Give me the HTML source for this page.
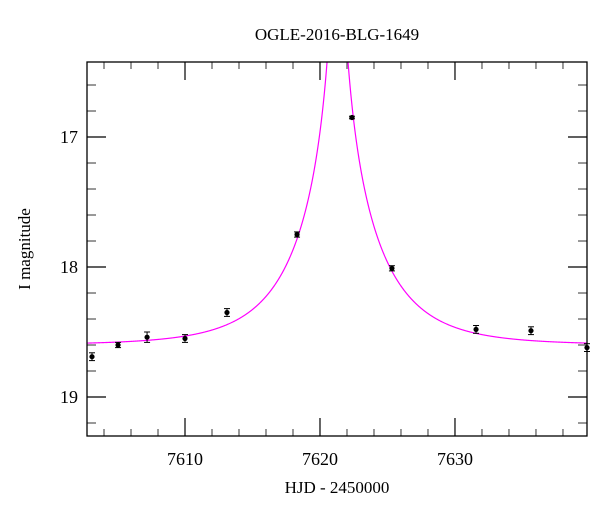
<!DOCTYPE html>
<html><head><meta charset="utf-8"><style>
html,body{margin:0;padding:0;background:#fff;}
svg{display:block;font-family:"Liberation Serif",serif;}
</style></head><body>
<svg id="chart" width="600" height="512" xmlns="http://www.w3.org/2000/svg">
<text x="337" y="40" text-anchor="middle" font-size="17">OGLE-2016-BLG-1649</text>
<text x="337" y="493" text-anchor="middle" font-size="17">HJD - 2450000</text>
<text transform="translate(30,249) rotate(-90)" text-anchor="middle" font-size="17">I magnitude</text>
<g id="ticks"></g>
<g id="curve"></g>
<g id="points"></g>
<rect x="87" y="62" width="500" height="374" fill="none" stroke="#000" stroke-width="1.3"/>
</svg>
<script>
const days=[7603.11,7605.04,7607.19,7610.0,7613.11,7618.30,7622.37,7625.33,7631.56,7635.63,7639.78];
const mags=[18.69,18.60,18.54,18.55,18.35,17.75,16.85,18.01,18.48,18.49,18.62];
const errs=[0.03,0.02,0.04,0.03,0.03,0.02,0.01,0.02,0.03,0.03,0.03];
const xTicks=[7610,7620,7630];
const yTicks=[17,18,19];
const modelParams=[7621.3,5.8,0.02,18.6]; // t0, tE, u0, baseline
const X0=87,X1=587,Y0=62,Y1=436,D0=7602.74,D1=7639.78,M0=16.423,M1=19.3;
const sx=d=>X0+(d-D0)/(D1-D0)*(X1-X0);
const sy=m=>Y0+(m-M0)/(M1-M0)*(Y1-Y0);
const NS="http://www.w3.org/2000/svg";
function mk(tag,attrs,parent){const e=document.createElementNS(NS,tag);for(const k in attrs)e.setAttribute(k,attrs[k]);parent.appendChild(e);return e;}
const tg=document.getElementById('ticks');
for(let d=7604;d<=D1;d+=2){
 const x=sx(d);const major=d%10===0;const L=major?18:7;
 const t1=mk('line',{x1:x,x2:x,y1:Y1,y2:Y1-L,stroke:major?'#000':'#555','stroke-width':1.2},tg);
 
 
 const t2=mk('line',{x1:x,x2:x,y1:Y0,y2:Y0+L,stroke:major?'#000':'#555','stroke-width':1.2},tg);
 
 
}
xTicks.forEach(v=>{const t=mk('text',{x:sx(v),y:465,'text-anchor':'middle','font-size':18},tg);t.textContent=v;
 
 });
for(let i=0;i<=14;i++){
 const m=16.6+i*0.2;if(m>M1)break;const y=sy(m);const major=Math.abs(m-Math.round(m))<1e-6;const L=major?19:9;
 const a=mk('line',{x1:X0,x2:X0+L,y1:y,y2:y,stroke:major?'#000':'#555','stroke-width':1.2},tg);
 
 
 const b=mk('line',{x1:X1,x2:X1-L,y1:y,y2:y,stroke:major?'#000':'#555','stroke-width':1.2},tg);
 
 
}
yTicks.forEach(v=>{const t=mk('text',{x:78,y:sy(v)+6,'text-anchor':'end','font-size':18},tg);t.textContent=v;
 
 });
const [t0,tE,u0,base]=modelParams;
let pts=[];
for(let d=D0;d<=D1;d+=0.02){
 const tau=(d-t0)/tE;const u=Math.sqrt(u0*u0+tau*tau);
 const A=(u*u+2)/(u*Math.sqrt(u*u+4));
 const m=base-2.5*Math.log10(A);
 pts.push(sx(d).toFixed(2)+','+Math.max(sy(m),Y0-50).toFixed(2));
}
const cg=document.getElementById('curve');
const cl=mk('svg',{x:X0,y:Y0,width:X1-X0,height:Y1-Y0,overflow:'hidden',viewBox:`${X0} ${Y0} ${X1-X0} ${Y1-Y0}`},cg);
const pl=mk('polyline',{points:pts.join(' '),fill:'none',stroke:'#ff00ff','stroke-width':1.2},cl);


const pg=document.getElementById('points');
days.forEach((d,i)=>{
 const x=sx(d),y=sy(mags[i]),e=errs[i];
 const g=mk('g',{},pg);
 
 
 const ya=sy(mags[i]-e),yb=sy(mags[i]+e);
 mk('line',{x1:x,x2:x,y1:ya,y2:yb,stroke:'#000','stroke-width':1},g);
 mk('line',{x1:x-3,x2:x+3,y1:ya,y2:ya,stroke:'#000','stroke-width':1},g);
 mk('line',{x1:x-3,x2:x+3,y1:yb,y2:yb,stroke:'#000','stroke-width':1},g);
 mk('circle',{cx:x,cy:y,r:2.6,fill:'#000'},g);
});
</script>
</body></html>
